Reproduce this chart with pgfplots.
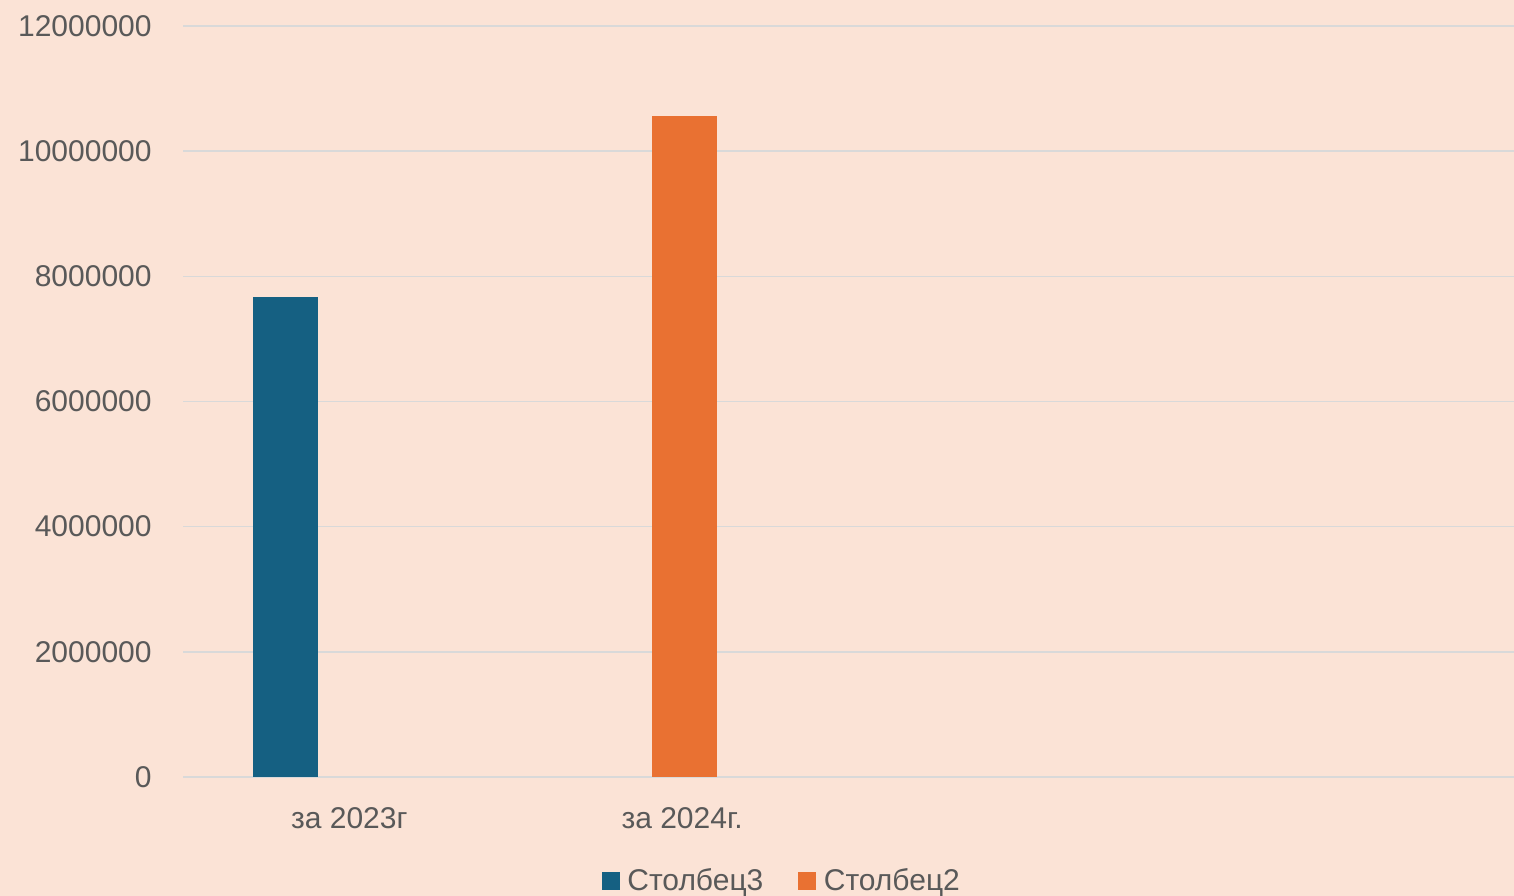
\documentclass[border=0pt]{standalone}
\usepackage{pgfplots}
\pgfplotsset{compat=1.18}
\usepackage{fontspec}
\setmainfont{Liberation Sans}
\definecolor{bg}{HTML}{FBE3D6}
\definecolor{sblue}{HTML}{156082}
\definecolor{sorange}{HTML}{E97132}
\definecolor{txt}{HTML}{595959}
\definecolor{gridc}{HTML}{D9D9D9}
\begin{document}
\begin{tikzpicture}[x=1bp,y=1bp]
\fill[bg] (0,0) rectangle (757,448);
\useasboundingbox (0,0) rectangle (757,448);
\begin{axis}[
  at={(91.5bp,59.5bp)}, anchor=south west,
  scale only axis, width=665.5bp, height=375.5bp,
  xmin=-0.5, xmax=3.5, ymin=0, ymax=12000000,
  xtick={0,1,2,3}, xticklabels={за 2023г, за 2024г., {}, {}},
  ytick={0,2000000,4000000,6000000,8000000,10000000,12000000},
  scaled y ticks=false,
  /pgf/number format/.cd, fixed, 1000 sep={}, assume math mode=true, /pgfplots/.cd,
  axis line style={draw=none},
  major tick length=0pt,
  ymajorgrids, major grid style={gridc, line width=0.75bp},
  tick label style={font=\fontsize{15bp}{18bp}\selectfont, text=txt},
  yticklabel style={anchor=east, inner sep=0pt, xshift=-15.5bp},
  xticklabel style={anchor=base, inner sep=0pt, yshift=-26bp},
  ybar, bar width=32.5bp,
  legend columns=2,
  legend style={at={(0.4507,-0.1385)}, anchor=center, draw=none, fill=none,
    font=\fontsize{15bp}{18bp}\selectfont, text=txt,
    /tikz/every even column/.append style={column sep=15.5bp}},
  legend image code/.code={\fill[#1,draw=none] (0bp,-4.5bp) rectangle (9bp,4.5bp); \path (10.75bp,0bp);},
]
\addplot[fill=sblue, draw=none, bar shift=-32bp] coordinates {(0,7670000)};
\addlegendentry{Столбец3}
\addplot[fill=sorange, draw=none, bar shift=1bp] coordinates {(1,10560000)};
\addlegendentry{Столбец2}
\end{axis}
\end{tikzpicture}
\end{document}
